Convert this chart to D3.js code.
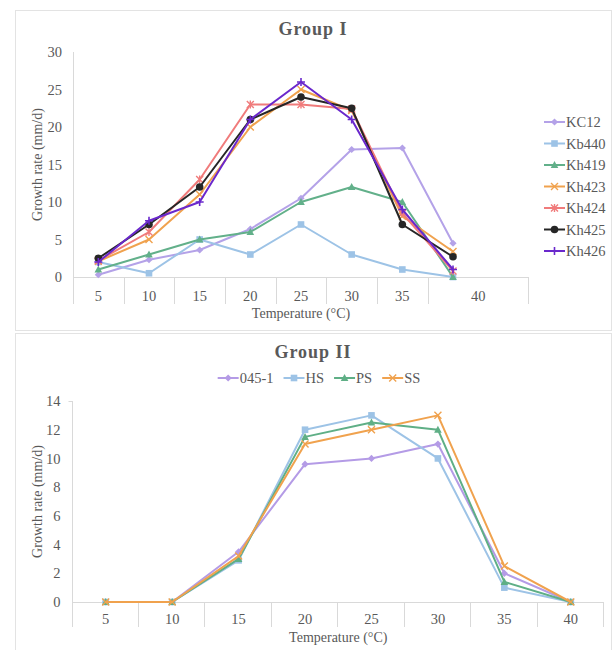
<!DOCTYPE html>
<html><head><meta charset="utf-8">
<script src="https://cdn.jsdelivr.net/npm/d3@7"></script>
<style>
body{margin:0;background:#fff;}
svg{display:block;font-family:"Liberation Serif","Times New Roman",serif;}
</style></head>
<body><svg id="c" width="614" height="650"></svg>
<script>
// ---------- DATA ----------
const tempsI = ["5","10","15","20","25","30","35","40"];
const seriesNamesI = ["KC12","Kb440","Kh419","Kh423","Kh424","Kh425","Kh426"];
const KC12  = [0.3, 2.3, 3.6, 6.4, 10.5, 17.0, 17.2, 4.5];
const Kb440 = [2.0, 0.5, 5.0, 3.0, 7.0, 3.0, 1.0, 0.0];
const Kh419 = [1.0, 3.0, 5.0, 6.0, 10.0, 12.0, 10.0, 0.0];
const Kh423 = [2.1, 5.0, 11.0, 20.0, 25.0, 22.2, 8.1, 3.4];
const Kh424 = [2.2, 6.0, 13.0, 23.0, 23.0, 22.4, 8.5, 0.8];
const Kh425 = [2.5, 7.0, 12.0, 21.0, 24.0, 22.5, 7.0, 2.7];
const Kh426 = [2.0, 7.5, 10.0, 21.0, 26.0, 21.0, 9.0, 1.0];
const yTicksI = [0,5,10,15,20,25,30];

const tempsII = ["5","10","15","20","25","30","35","40"];
const seriesNamesII = ["045-1","HS","PS","SS"];
const S045 = [0, 0, 3.5, 9.6, 10.0, 11.0, 2.0, 0];
const HS   = [0, 0, 2.9, 12.0, 13.0, 10.0, 1.0, 0];
const PS   = [0, 0, 3.0, 11.5, 12.5, 12.0, 1.4, 0];
const SS   = [0, 0, 3.2, 11.0, 12.0, 13.0, 2.5, 0];
const yTicksII = [0,2,4,6,8,10,12,14];

// ---------- STYLE ----------
const txt = "#595959";
const axisCol = "#d9d9d9";
const stylesI = {
  KC12:  {color:"#b4a2e8", marker:"diamond"},
  Kb440: {color:"#9dc3e6", marker:"square"},
  Kh419: {color:"#62b08a", marker:"triangle"},
  Kh423: {color:"#f0a24e", marker:"cross"},
  Kh424: {color:"#f07b7b", marker:"asterisk"},
  Kh425: {color:"#262626", marker:"circle"},
  Kh426: {color:"#6a28cc", marker:"plus"}
};
const stylesII = {
  "045-1": {color:"#b49be6", marker:"diamond"},
  "HS":    {color:"#9dc3e6", marker:"square"},
  "PS":    {color:"#5faf86", marker:"triangle"},
  "SS":    {color:"#f0a24e", marker:"cross"}
};
const dataI = {KC12, Kb440, Kh419, Kh423, Kh424, Kh425, Kh426};
const dataII = {"045-1":S045, HS, PS, SS};

const svg = d3.select("#c");

function drawMarker(g, type, x, y, color){
  if(type==="diamond"){
    g.append("path").attr("d",`M${x},${y-3.6}L${x+3.6},${y}L${x},${y+3.6}L${x-3.6},${y}Z`).attr("fill",color);
  } else if(type==="square"){
    g.append("rect").attr("x",x-3.3).attr("y",y-3.3).attr("width",6.6).attr("height",6.6).attr("fill",color);
  } else if(type==="triangle"){
    g.append("path").attr("d",`M${x},${y-4}L${x+3.8},${y+3}L${x-3.8},${y+3}Z`).attr("fill",color);
  } else if(type==="circle"){
    g.append("circle").attr("cx",x).attr("cy",y).attr("r",3.8).attr("fill",color);
  } else if(type==="cross"){
    g.append("path").attr("d",`M${x-3.5},${y-3.5}L${x+3.5},${y+3.5}M${x-3.5},${y+3.5}L${x+3.5},${y-3.5}`).attr("stroke",color).attr("stroke-width",1.4);
  } else if(type==="asterisk"){
    g.append("path").attr("d",`M${x-3.5},${y-3.5}L${x+3.5},${y+3.5}M${x-3.5},${y+3.5}L${x+3.5},${y-3.5}M${x},${y-4}L${x},${y+4}`).attr("stroke",color).attr("stroke-width",1.4);
  } else if(type==="plus"){
    g.append("path").attr("d",`M${x-4},${y}L${x+4},${y}M${x},${y-4}L${x},${y+4}`).attr("stroke",color).attr("stroke-width",1.6);
  }
}

// ---------- FRAMES ----------
svg.append("rect").attr("x",15.5).attr("y",10.5).attr("width",596).attr("height",320).attr("fill","none").attr("stroke","#e3e3e3");
svg.append("rect").attr("x",15.5).attr("y",333.5).attr("width",596).attr("height",330).attr("fill","none").attr("stroke","#e3e3e3");

// ---------- CHART I ----------
(function(){
  const left=73, right=529, top=52, bottom=277;
  const slots = tempsI.concat(["_pad"]);
  const x = d3.scaleBand().domain(slots).range([left,right]).paddingInner(0).paddingOuter(0);
  const y = d3.scaleLinear().domain([0,30]).range([bottom,top]);
  const bw = x.bandwidth();
  const g = svg.append("g");

  // title
  g.append("text").attr("x",313).attr("y",35).attr("text-anchor","middle")
   .attr("font-size",18).attr("font-weight","bold").attr("letter-spacing",1).attr("fill",txt).text("Group I");

  // y axis
  const ya = g.append("g").attr("transform",`translate(${left},0)`)
    .call(d3.axisLeft(y).tickValues(yTicksI).tickSize(0).tickPadding(11));
  ya.select(".domain").remove();
  ya.selectAll("text").attr("font-size",14.5).attr("fill",txt).attr("font-family","Liberation Serif");
  g.append("line").attr("x1",left+0.5).attr("x2",left+0.5).attr("y1",top).attr("y2",bottom+27).attr("stroke",axisCol);

  // x axis line & dividers
  g.append("line").attr("x1",left).attr("x2",right).attr("y1",bottom+0.5).attr("y2",bottom+0.5).attr("stroke",axisCol);
  const divs = slots.slice(1,8).map(s=>x(s)).concat([right]);
  divs.filter((d,i)=>i!==7 || true).forEach((d,i)=>{
    if(slots[i+1]==="_pad") return;
    g.append("line").attr("x1",Math.round(d)+0.5).attr("x2",Math.round(d)+0.5).attr("y1",bottom).attr("y2",bottom+27).attr("stroke",axisCol);
  });
  g.append("line").attr("x1",right-0.5).attr("x2",right-0.5).attr("y1",bottom).attr("y2",bottom+27).attr("stroke",axisCol);

  const xa = g.append("g").attr("transform",`translate(0,${bottom})`)
    .call(d3.axisBottom(x).tickValues(tempsI).tickSize(0).tickPadding(14));
  xa.select(".domain").remove();
  xa.selectAll("text").attr("font-size",14.5).attr("fill",txt).attr("font-family","Liberation Serif");
  xa.selectAll(".tick").filter(d=>d==="40").attr("transform",`translate(${x("40")+bw},0)`);

  // axis titles
  g.append("text").attr("x",(left+right)/2).attr("y",318).attr("text-anchor","middle")
   .attr("font-size",14).attr("fill",txt).text("Temperature (°C)");
  g.append("text").attr("transform",`translate(42,${(top+bottom)/2}) rotate(-90)`).attr("text-anchor","middle")
   .attr("font-size",14).attr("fill",txt).text("Growth rate (mm/d)");

  // lines
  const line = d3.line().x((d,i)=>x(tempsI[i])+bw/2).y(d=>y(d));
  seriesNamesI.forEach(name=>{
    const st = stylesI[name];
    g.append("path").datum(dataI[name]).attr("d",line).attr("fill","none")
     .attr("stroke",st.color).attr("stroke-width",2).attr("stroke-linejoin","round");
    const mg = g.append("g");
    dataI[name].forEach((v,i)=>drawMarker(mg, st.marker, x(tempsI[i])+bw/2, y(v), st.color));
  });

  // legend
  const lg = g.append("g");
  const ly = d3.scalePoint().domain(seriesNamesI).range([122,251]);
  seriesNamesI.forEach(name=>{
    const st = stylesI[name];
    const yy = ly(name);
    lg.append("line").attr("x1",544).attr("x2",565).attr("y1",yy).attr("y2",yy).attr("stroke",st.color).attr("stroke-width",2);
    drawMarker(lg, st.marker, 554.5, yy, st.color);
    lg.append("text").attr("x",566).attr("y",yy).attr("dy","0.35em").attr("font-size",14.5).attr("fill",txt).text(name);
  });
})();

// ---------- CHART II ----------
(function(){
  const left=72.5, right=604, top=401, bottom=602;
  const x = d3.scaleBand().domain(tempsII).range([left,right]).paddingInner(0).paddingOuter(0);
  const y = d3.scaleLinear().domain([0,14]).range([bottom,top]);
  const bw = x.bandwidth();
  const g = svg.append("g");

  g.append("text").attr("x",313).attr("y",358).attr("text-anchor","middle")
   .attr("font-size",18).attr("font-weight","bold").attr("letter-spacing",1).attr("fill",txt).text("Group II");

  // legend (horizontal, centered)
  const lg = g.append("g");
  let cx = 0;
  const items = [];
  seriesNamesII.forEach(name=>{
    const st = stylesII[name];
    const it = lg.append("g").attr("transform",`translate(${cx},0)`);
    it.append("line").attr("x1",0).attr("x2",21).attr("y1",0).attr("y2",0).attr("stroke",st.color).attr("stroke-width",2);
    drawMarker(it, st.marker, 10.5, 0, st.color);
    const t = it.append("text").attr("x",22).attr("y",0).attr("dy","0.35em").attr("font-size",14.5).attr("fill",txt).text(name);
    const w = t.node().getComputedTextLength();
    cx += 22 + w + 10;
  });
  const total = cx - 10;
  lg.attr("transform",`translate(${319 - total/2},378)`);

  // y axis
  const ya = g.append("g").attr("transform",`translate(${left},0)`)
    .call(d3.axisLeft(y).tickValues(yTicksII).tickSize(0).tickPadding(12));
  ya.select(".domain").remove();
  ya.selectAll("text").attr("font-size",14.5).attr("fill",txt).attr("font-family","Liberation Serif");
  g.append("line").attr("x1",left).attr("x2",left).attr("y1",top).attr("y2",bottom+25).attr("stroke",axisCol);
  g.append("line").attr("x1",left-4).attr("x2",left).attr("y1",top+0.5).attr("y2",top+0.5).attr("stroke",axisCol);

  // x axis line & dividers
  g.append("line").attr("x1",left).attr("x2",right).attr("y1",bottom+0.5).attr("y2",bottom+0.5).attr("stroke",axisCol);
  tempsII.slice(1).map(s=>x(s)).concat([right]).forEach(d=>{
    g.append("line").attr("x1",Math.round(d)-0.5).attr("x2",Math.round(d)-0.5).attr("y1",bottom).attr("y2",bottom+25).attr("stroke",axisCol);
  });
  const xa = g.append("g").attr("transform",`translate(0,${bottom})`)
    .call(d3.axisBottom(x).tickSize(0).tickPadding(12));
  xa.select(".domain").remove();
  xa.selectAll("text").attr("font-size",14.5).attr("fill",txt).attr("font-family","Liberation Serif");

  g.append("text").attr("x",(left+right)/2).attr("y",642).attr("text-anchor","middle")
   .attr("font-size",14).attr("fill",txt).text("Temperature (°C)");
  g.append("text").attr("transform",`translate(42,${(top+bottom)/2}) rotate(-90)`).attr("text-anchor","middle")
   .attr("font-size",14).attr("fill",txt).text("Growth rate (mm/d)");

  const line = d3.line().x((d,i)=>x(tempsII[i])+bw/2).y(d=>y(d));
  seriesNamesII.forEach(name=>{
    const st = stylesII[name];
    g.append("path").datum(dataII[name]).attr("d",line).attr("fill","none")
     .attr("stroke",st.color).attr("stroke-width",2).attr("stroke-linejoin","round");
    const mg = g.append("g");
    dataII[name].forEach((v,i)=>drawMarker(mg, st.marker, x(tempsII[i])+bw/2, y(v), st.color));
  });
})();
</script></body></html>
